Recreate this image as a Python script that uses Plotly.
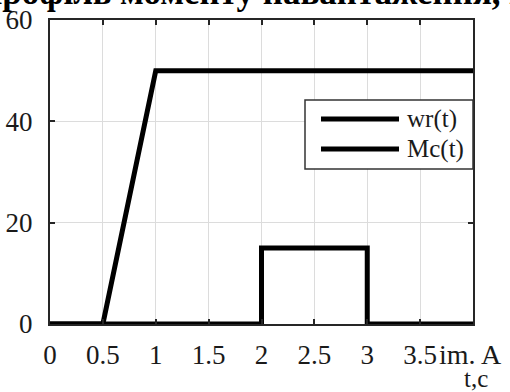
import plotly.graph_objects as go

# ---- data ----
t_wr = [0, 0.5, 1, 4]
wr = [0, 0, 50, 50]
t_mc = [0, 2, 2, 3, 3, 4]
mc = [0, 0, 15, 15, 0, 0]
series_names = ["wr(t)", "Mc(t)"]
x_ticks = [0, 0.5, 1, 1.5, 2, 2.5, 3, 3.5, 4]
x_tick_labels = ["0", "0.5", "1", "1.5", "2", "2.5", "3", "3.5", ""]
y_ticks = [0, 20, 40, 60]
title_text = "Профіль моменту навантаження, Н·м"
x_label = "t,c"
extra_label = "im. A"

# ---- layout geometry (pixels) ----
W, H = 510, 392
L, R, T, B = 50, 473, 20, 324
FONT = "'Liberation Serif', 'Times New Roman', Times, serif"


def xp(px):
    return (px - L) / (R - L)


def yp(py):
    return (B - py) / (B - T)


fig = go.Figure()
fig.add_trace(go.Scatter(x=t_wr, y=wr, mode="lines", name=series_names[0],
                         line=dict(color="black", width=5), showlegend=False))
fig.add_trace(go.Scatter(x=t_mc, y=mc, mode="lines", name=series_names[1],
                         line=dict(color="black", width=5), showlegend=False))

axis_common = dict(
    showline=True, linecolor="#262626", linewidth=2, mirror="ticks",
    ticks="inside", ticklen=5, tickwidth=1.5, tickcolor="#262626",
    showgrid=True, gridcolor="#dcdcdc", gridwidth=1, zeroline=False,
    automargin=False,
    tickfont=dict(family=FONT, size=27, color="#1a1a1a"),
)

fig.update_layout(
    width=W, height=H,
    margin=dict(l=L, r=W - R, t=T, b=H - B),
    paper_bgcolor="white", plot_bgcolor="white",
    showlegend=False,
    font=dict(family=FONT),
    xaxis=dict(range=[0, 4], tickvals=x_ticks, ticktext=x_tick_labels,
               ticklabelstandoff=6, **axis_common),
    yaxis=dict(range=[0, 60], tickvals=y_ticks, ticklabelstandoff=10,
               **axis_common),
)

# title (clipped at top, as in the reference)
fig.add_annotation(text=title_text, xref="paper", yref="paper",
                   x=xp(-27), y=yp(14), xanchor="left", yanchor="bottom",
                   showarrow=False,
                   font=dict(family=FONT, size=35, color="black", weight="bold"))

# extra label glued after 3.5
fig.add_annotation(text=extra_label, xref="paper", yref="paper",
                   x=xp(437), y=yp(354), xanchor="left", yanchor="middle",
                   showarrow=False, font=dict(family=FONT, size=28, color="#1a1a1a"))
# axis label
fig.add_annotation(text=x_label, xref="paper", yref="paper",
                   x=xp(476), y=yp(378), xanchor="center", yanchor="middle",
                   showarrow=False, font=dict(family=FONT, size=25, color="#1a1a1a"))

# manual legend
fig.add_shape(type="rect", xref="paper", yref="paper",
              x0=xp(305), x1=xp(473), y0=yp(169), y1=yp(100),
              line=dict(color="#333333", width=1.5), fillcolor="white", layer="above")
for name, py in zip(series_names, [119, 149]):
    fig.add_shape(type="line", xref="paper", yref="paper",
                  x0=xp(321), x1=xp(399), y0=yp(py), y1=yp(py),
                  line=dict(color="black", width=5), layer="above")
    fig.add_annotation(text=name, xref="paper", yref="paper",
                       x=xp(405), y=yp(py), xanchor="left", yanchor="middle",
                       showarrow=False, font=dict(family=FONT, size=25, color="#1a1a1a"))

fig.write_html("out.html")
